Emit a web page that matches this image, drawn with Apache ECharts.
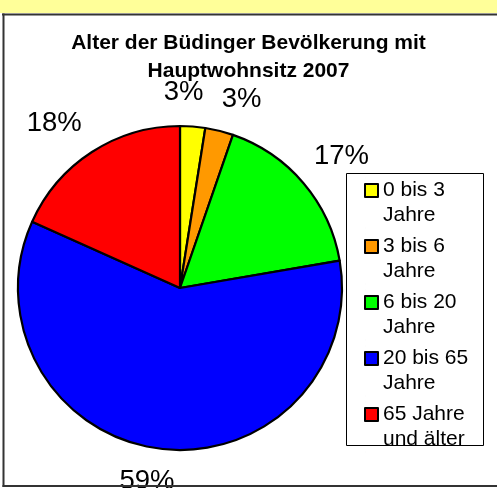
<!DOCTYPE html>
<html>
<head>
    <meta charset="utf-8">
    <title>Alter der Büdinger Bevölkerung</title>
    <script src="https://cdn.jsdelivr.net/npm/echarts@6/dist/echarts.min.js"></script>
    <style>
        html, body {
            margin: 0;
            padding: 0;
            background: #fff;
        }

        #chart {
            width: 497px;
            height: 488px;
        }
    </style>
</head>

<body>
    <div id="chart"></div>

    <script>
        var categories = ['0 bis 3 Jahre', '3 bis 6 Jahre', '6 bis 20 Jahre', '20 bis 65 Jahre', '65 Jahre und älter'];
        var legendLines = ['0 bis 3\nJahre', '3 bis 6\nJahre', '6 bis 20\nJahre', '20 bis 65\nJahre', '65 Jahre\nund älter'];
        var shares = [2.5, 2.8, 17.0, 59.4, 18.3];
        var colors = ['#ffff00', '#ff9900', '#00ff00', '#0000ff', '#ff0000'];
        // small nudges so the percent labels sit where Excel put them
        var labelNudge = [[-12, 4], [13, 5], [9, -2], [-8, -5], [-17, 3]];

        var font = "'Liberation Sans', Arial, Helvetica, sans-serif";

        var chart = echarts.init(document.getElementById('chart'));

        var sliceData = categories.map(function (name, i) {
            return { name: name, value: shares[i], itemStyle: { color: colors[i] } };
        });
        var labelData = categories.map(function (name, i) {
            return {
                name: name,
                value: shares[i],
                itemStyle: { color: 'rgba(0,0,0,0)' },
                label: { offset: labelNudge[i] }
            };
        });

        function frameLine(x1, y1, x2, y2) {
            return {
                type: 'line', z: 100, silent: true,
                shape: { x1: x1, y1: y1, x2: x2, y2: y2 },
                style: { stroke: '#333', lineWidth: 2 }
            };
        }

        chart.setOption({
            animation: false,
            backgroundColor: '#fff',
            title: {
                text: 'Alter der Büdinger Bevölkerung mit\nHauptwohnsitz 2007',
                left: 'center',
                top: 29,
                padding: [0, 0, 0, 5],
                textStyle: {
                    fontFamily: font,
                    fontSize: 21,
                    fontWeight: 'bold',
                    lineHeight: 28,
                    color: '#000'
                }
            },
            graphic: [
                { type: 'rect', z: 100, silent: true, shape: { x: 0, y: 0, width: 497, height: 13 }, style: { fill: '#ffff99' } },
                frameLine(2, 14.5, 497, 14.5),
                frameLine(3.5, 13.5, 3.5, 487),
                frameLine(2.5, 486, 497, 486),
                // legend frame
                { type: 'rect', z: 0, silent: true, shape: { x: 346.5, y: 173.5, width: 137, height: 272 }, style: { fill: '#fff', stroke: '#000', lineWidth: 1 } }
            ],
            legend: {
                orient: 'vertical',
                left: 364,
                top: 177,
                padding: 0,
                itemGap: 4,
                itemWidth: 13,
                itemHeight: 50,
                // square sits at the first text line
                icon: 'path://M0,0h0.01M0,6h13v13h-13zM0,50h0.01',
                itemStyle: { borderColor: '#000', borderWidth: 2 },
                formatter: function (name) {
                    return legendLines[categories.indexOf(name)];
                },
                textStyle: { fontFamily: font, fontSize: 21, lineHeight: 25, color: '#000' },
                selectedMode: false,
                data: categories
            },
            series: [
                {
                    type: 'pie',
                    center: [180, 288],
                    radius: 162,
                    startAngle: 90,
                    clockwise: true,
                    label: { show: false },
                    labelLine: { show: false },
                    itemStyle: { borderColor: '#000', borderWidth: 2.2 },
                    emphasis: { disabled: true },
                    data: sliceData
                },
                {
                    // invisible ring that carries the percentage labels
                    type: 'pie',
                    center: [180, 288],
                    radius: [164, 230],
                    startAngle: 90,
                    clockwise: true,
                    silent: true,
                    percentPrecision: 0,
                    itemStyle: { borderWidth: 0 },
                    label: {
                        position: 'inside',
                        formatter: '{d}%',
                        fontFamily: font,
                        fontSize: 27.5,
                        color: '#000'
                    },
                    labelLayout: { hideOverlap: false },
                    labelLine: { show: false },
                    emphasis: { disabled: true },
                    data: labelData
                }
            ]
        });
    </script>
</body>

</html>
